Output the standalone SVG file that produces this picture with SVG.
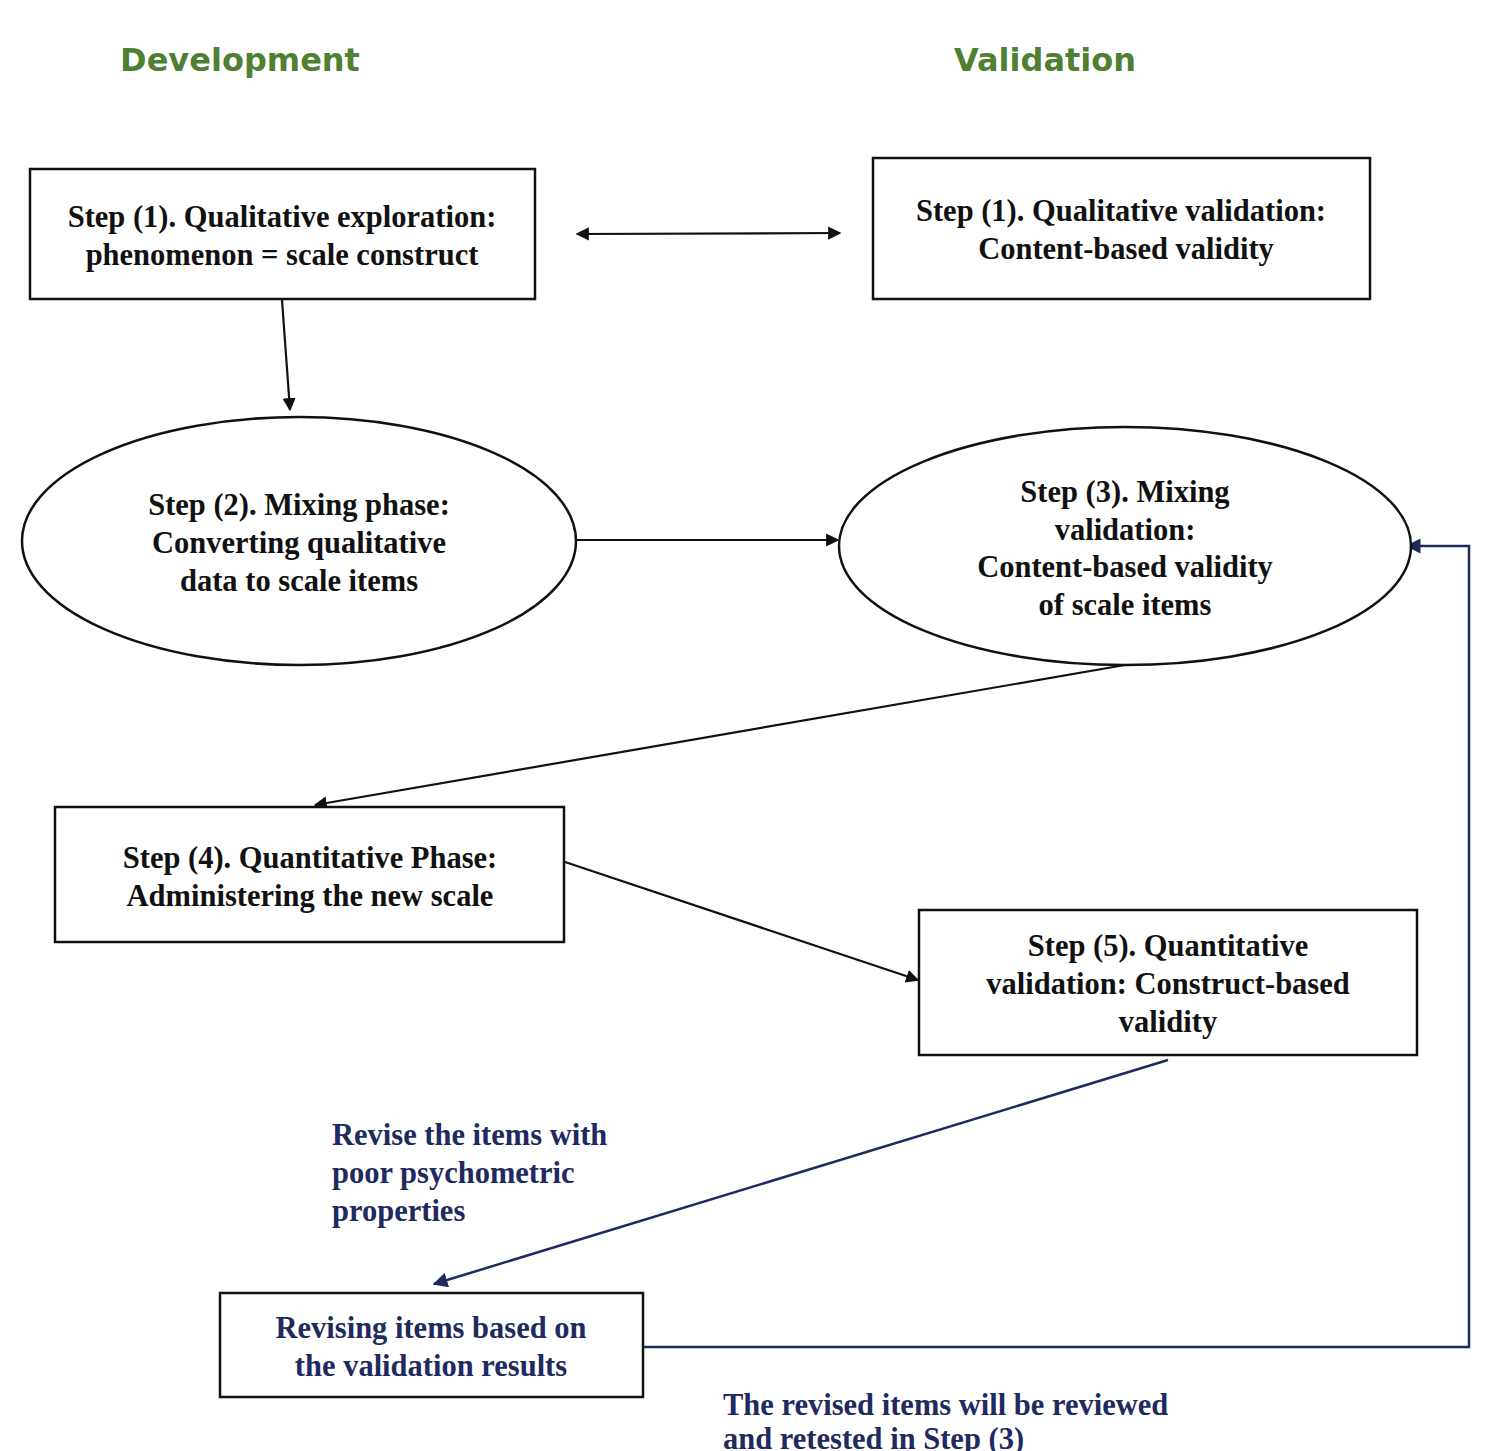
<svg xmlns="http://www.w3.org/2000/svg" width="1500" height="1451" viewBox="0 0 1500 1451">
<style>
.h{font-family:"DejaVu Sans","Liberation Sans",sans-serif;font-weight:bold;font-size:32px;fill:#4f7f32;text-anchor:middle}
.t{font-family:"Liberation Serif",serif;font-weight:bold;font-size:30.5px;fill:#111;text-anchor:middle}
.n{font-family:"Liberation Serif",serif;font-weight:bold;font-size:30.5px;fill:#1f2a5e}
.b{fill:#fff;stroke:#111;stroke-width:2.5}
.c{stroke:#111;stroke-width:2.2;fill:none}
.cn{stroke:#1f2a5e;stroke-width:2.5;fill:none}
</style>
<defs>
<marker id="a" viewBox="0 0 10 10" refX="9" refY="5" markerWidth="6" markerHeight="6" orient="auto-start-reverse"><path d="M0,0L10,5L0,10z" fill="#111"/></marker>
<marker id="an" viewBox="0 0 10 10" refX="9" refY="5" markerWidth="6" markerHeight="6" orient="auto"><path d="M0,0L10,5L0,10z" fill="#1f2a5e"/></marker>
</defs>
<rect width="1500" height="1451" fill="#fff"/>
<text class="h" x="240" y="71">Development</text>
<text class="h" x="1045" y="71">Validation</text>
<g id="connectors">
<line class="c" x1="577" y1="234" x2="840" y2="233" marker-start="url(#a)" marker-end="url(#a)"/>
<line class="c" x1="282" y1="300" x2="290" y2="410" marker-end="url(#a)"/>
<line class="c" x1="577" y1="540" x2="838" y2="540" marker-end="url(#a)"/>
<line class="c" x1="1125" y1="665" x2="315" y2="805" marker-end="url(#a)"/>
<line class="c" x1="565" y1="862" x2="918" y2="980" marker-end="url(#a)"/>
<line class="cn" x1="1168" y1="1060" x2="434" y2="1284" marker-end="url(#an)"/>
<polyline class="cn" points="643,1347 1469,1347 1469,546 1407,546" marker-end="url(#an)"/>
</g>
<g id="d1"><rect class="b" x="30" y="169" width="505" height="130"/>
<text class="t" x="282" y="227">Step (1). Qualitative exploration:</text>
<text class="t" x="282" y="265">phenomenon = scale construct</text></g>
<g id="v1"><rect class="b" x="873" y="158" width="497" height="141"/>
<text class="t" x="1121" y="221">Step (1). Qualitative validation:</text>
<text class="t" x="1126" y="259">Content-based validity</text></g>
<g id="d2"><ellipse class="b" cx="299" cy="541" rx="277" ry="124"/>
<text class="t" x="299" y="515">Step (2). Mixing phase:</text>
<text class="t" x="299" y="553">Converting qualitative</text>
<text class="t" x="299" y="591">data to scale items</text></g>
<g id="v3"><ellipse class="b" cx="1125" cy="546" rx="286" ry="119"/>
<text class="t" x="1125" y="502">Step (3). Mixing</text>
<text class="t" x="1125" y="540">validation:</text>
<text class="t" x="1125" y="577">Content-based validity</text>
<text class="t" x="1125" y="615">of scale items</text></g>
<g id="d4"><rect class="b" x="55" y="807" width="509" height="135"/>
<text class="t" x="310" y="868">Step (4). Quantitative Phase:</text>
<text class="t" x="310" y="906">Administering the new scale</text></g>
<g id="v5"><rect class="b" x="919" y="910" width="498" height="145"/>
<text class="t" x="1168" y="956">Step (5). Quantitative</text>
<text class="t" x="1168" y="994">validation: Construct-based</text>
<text class="t" x="1168" y="1032">validity</text></g>
<g id="rev"><rect class="b" x="220" y="1293" width="423" height="104"/>
<text class="n" x="431" y="1338" text-anchor="middle">Revising items based on</text>
<text class="n" x="431" y="1376" text-anchor="middle">the validation results</text></g>
<g id="labels">
<text class="n" x="332" y="1145">Revise the items with</text>
<text class="n" x="332" y="1183">poor psychometric</text>
<text class="n" x="332" y="1221">properties</text>
<text class="n" x="723" y="1415">The revised items will be reviewed</text>
<text class="n" x="723" y="1449">and retested in Step (3)</text>
</g>
</svg>
